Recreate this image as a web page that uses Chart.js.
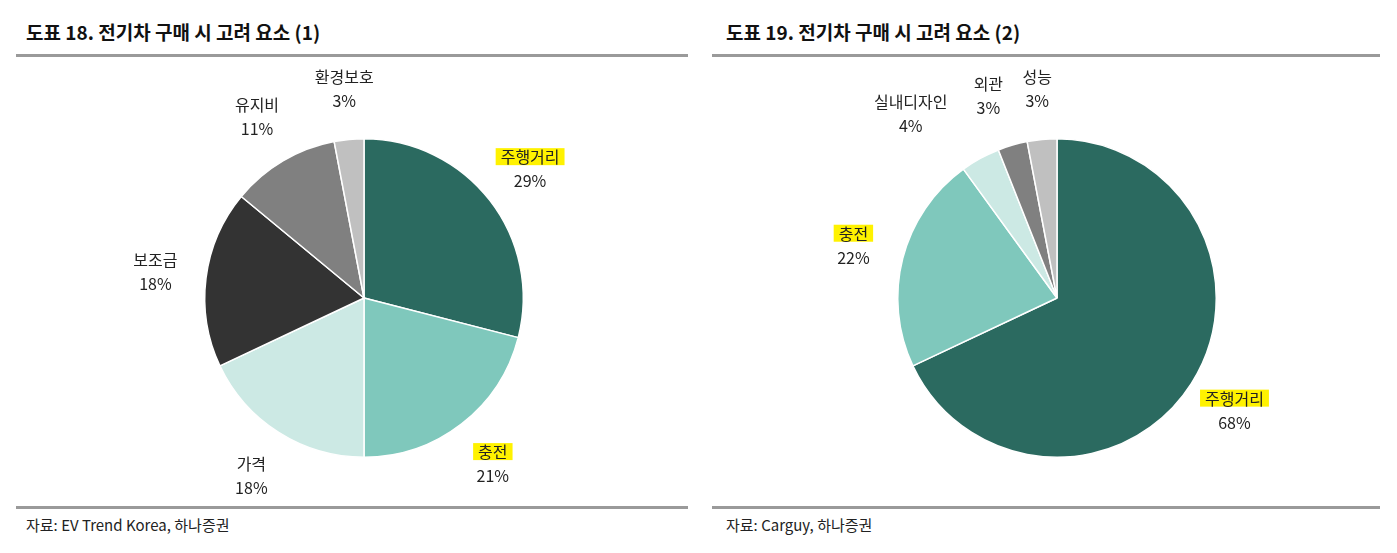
<!DOCTYPE html>
<html><head><meta charset="utf-8">
<script src="https://cdn.jsdelivr.net/npm/chart.js@4/dist/chart.umd.min.js"></script>
<style>
body{margin:0;width:1397px;height:553px;background:#fff;position:relative;overflow:hidden;font-family:"Noto Sans CJK KR",sans-serif;color:#111}
.title{position:absolute;top:18px;font-size:19px;font-weight:bold}
.rule{position:absolute;height:3px;background:#9a9a9a}
.src{position:absolute;top:514px;font-size:15px;color:#222}
canvas{position:absolute}
</style></head><body>
<div class="title" style="left:26px">도표 18. 전기차 구매 시 고려 요소 (1)</div>
<div class="title" style="left:726px">도표 19. 전기차 구매 시 고려 요소 (2)</div>
<div class="rule" style="left:16px;width:672px;top:54px"></div>
<div class="rule" style="left:712px;width:668px;top:54px"></div>
<div class="rule" style="left:16px;width:672px;top:506px"></div>
<div class="rule" style="left:712px;width:668px;top:506px"></div>
<div class="src" style="left:26px">자료: EV Trend Korea, 하나증권</div>
<div class="src" style="left:726px">자료: Carguy, 하나증권</div>
<div style="position:absolute;left:114px;top:48px;width:500px;height:500px"><canvas id="c1"></canvas></div>
<div style="position:absolute;left:807px;top:48px;width:500px;height:500px"><canvas id="c2"></canvas></div>
<script>
var labels1 = ['주행거리', '충전', '가격', '보조금', '유지비', '환경보호'];
var values1 = [29, 21, 18, 18, 11, 3];
var colors1 = ['#2b6a60', '#7fc8bc', '#cce9e4', '#333333', '#808080', '#c0c0c0'];
var labels2 = ['주행거리', '충전', '실내디자인', '외관', '성능'];
var values2 = [68, 22, 4, 3, 3];
var colors2 = ['#2b6a60', '#7fc8bc', '#cce9e4', '#808080', '#c0c0c0'];
var highlight = ['주행거리', '충전'];

var outLabels = {
    id: 'outLabels',
    afterDatasetsDraw: function (chart, args, opts) {
        var ctx = chart.ctx;
        var meta = chart.getDatasetMeta(0);
        var vals = chart.data.datasets[0].data;
        ctx.save();
        ctx.font = '16px "Noto Sans CJK KR"';
        ctx.textAlign = 'center';
        ctx.textBaseline = 'middle';
        meta.data.forEach(function (arc, i) {
            var mid = (arc.startAngle + arc.endAngle) / 2;
            var r = arc.outerRadius * 1.32;
            var dx = (opts.dx && opts.dx[i]) || 0;
            var x = arc.x + Math.cos(mid) * r + dx;
            var y = arc.y + Math.sin(mid) * r;
            var name = chart.data.labels[i];
            if (highlight.indexOf(name) >= 0) {
                var w = ctx.measureText(name).width;
                ctx.fillStyle = '#fff200';
                ctx.fillRect(x - w / 2 - 5, y - 21, w + 10, 17);
            }
            ctx.fillStyle = '#222';
            ctx.fillText(name, x, y - 12);
            ctx.fillText(vals[i] + '%', x, y + 12);
        });
        ctx.restore();
    }
};

function makePie(id, labels, values, colors, dx) {
    new Chart(document.getElementById(id), {
        type: 'pie',
        data: { labels: labels, datasets: [{ data: values, backgroundColor: colors, borderColor: '#fff', borderWidth: 1.5 }] },
        options: {
            responsive: true, maintainAspectRatio: false, animation: false,
            layout: { padding: 90 },
            plugins: { legend: { display: false }, tooltip: { enabled: false }, outLabels: { dx: dx } }
        },
        plugins: [outLabels]
    });
}
makePie('c1', labels1, values1, colors1, [0, 0, 0, 0, 0, 0]);
makePie('c2', labels2, values2, colors2, [0, 0, -45, -10, 0]);
</script>
</body></html>
